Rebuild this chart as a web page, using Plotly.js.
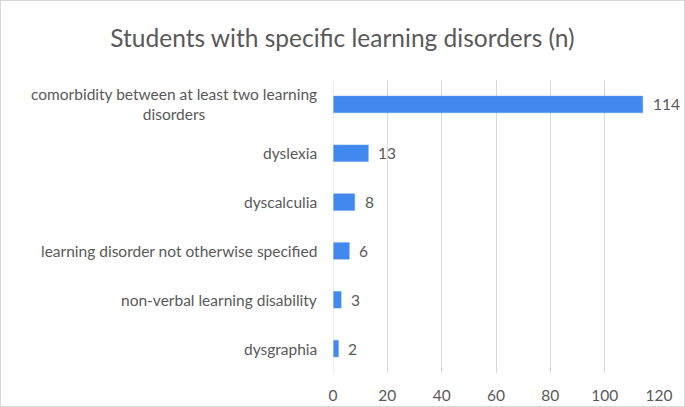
<!DOCTYPE html>
<html>
<head>
<meta charset="utf-8">
<script src="https://cdn.plot.ly/plotly-3.0.1.min.js"></script>
<style>
html,body{margin:0;padding:0;background:#fff;}
#chart{width:685px;height:407px;box-sizing:border-box;border:1px solid #d9d9d9;}
</style>
</head>
<body>
<div id="chart"></div>
<script>
const categories = [
  "comorbidity between at least two learning<br>disorders",
  "dyslexia",
  "dyscalculia",
  "learning disorder not otherwise specified",
  "non-verbal learning disability",
  "dysgraphia"
];
const values = [114, 13, 8, 6, 3, 2];
const xTicks = [0, 20, 40, 60, 80, 100, 120];
const titleText = "Students with specific learning disorders (n)";

const textColor = "#595959";
const fontFam = "Lato, 'Open Sans', sans-serif";

const trace = {
  type: "bar",
  orientation: "h",
  x: values,
  y: categories,
  marker: {color: "#4189ef", line: {color: "#5b9bf5", width: 0.5}},
  hoverinfo: "none"
};

const catAnnotations = categories.map(c => ({
  xref: "paper", yref: "y",
  x: 0, y: c,
  xanchor: "right", yanchor: "middle",
  xshift: -14,
  text: c,
  align: "center",
  showarrow: false,
  font: {family: fontFam, size: 15.5, color: textColor}
}));

const valueAnnotations = values.map((v, i) => ({
  xref: "x", yref: "y",
  x: v, y: categories[i],
  xanchor: "left", yanchor: "middle",
  xshift: 8,
  text: String(v),
  showarrow: false,
  font: {family: fontFam, size: 15.5, color: textColor}
}));

const layout = {
  width: 683, height: 405,
  margin: {l: 332, r: 25, t: 79, b: 33},
  paper_bgcolor: "#ffffff",
  plot_bgcolor: "#ffffff",
  bargap: 0.66,
  showlegend: false,
  title: {
    text: titleText,
    font: {family: fontFam, size: 24.5, color: textColor},
    x: 0.5, xanchor: "center",
    y: 1 - 37/405, yanchor: "middle", yref: "container"
  },
  xaxis: {
    range: [0, 120],
    tickvals: xTicks,
    ticktext: xTicks.map(String),
    showgrid: true,
    gridcolor: "#d9d9d9",
    gridwidth: 1,
    zeroline: false,
    showline: false,
    ticks: "",
    tickfont: {family: fontFam, size: 15.5, color: textColor},
    ticklabelstandoff: 11
  },
  yaxis: {
    type: "category",
    autorange: "reversed",
    showticklabels: false,
    showgrid: false,
    zeroline: false,
    showline: false,
    ticks: ""
  },
  shapes: [{
    type: "line", xref: "x", yref: "paper",
    x0: 0, x1: 0, y0: 0, y1: 1,
    line: {color: "#d9d9d9", width: 1}
  }],
  annotations: catAnnotations.concat(valueAnnotations)
};

Plotly.newPlot("chart", [trace], layout, {displayModeBar: false, staticPlot: true});
</script>
</body>
</html>
